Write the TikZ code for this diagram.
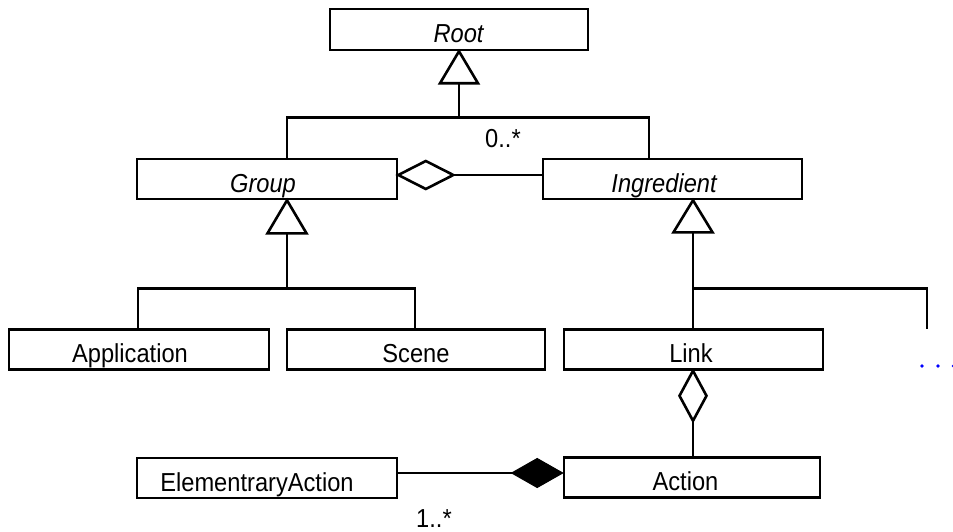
\documentclass[tikz,border=0pt]{standalone}
\usepackage{fontspec}
\setmainfont{Liberation Sans}[FakeStretch=0.91]
\usetikzlibrary{calc}
\begin{document}
\begin{tikzpicture}[x=1pt,y=-1pt,
  cls/.style={draw, line width=2.6pt, fill=white, inner sep=0pt,
    minimum height=40pt, text height=26pt, text depth=0pt,
    font=\fontsize{26}{30}\selectfont},
  conn/.style={line width=2.6pt},
  gen/.style={line width=2.6pt, fill=white, line join=miter},
  comp/.style={line width=1pt, fill=black, draw=black, line join=miter},
  lbl/.style={inner sep=0pt, font=\fontsize{26}{30}\selectfont}]
\useasboundingbox (0,0) rectangle (953,532);

% classes
\node[cls, minimum width=258pt, minimum height=41pt] (root) at (459,29.5) {\textit{Root}};
\node[cls, minimum width=260pt] (group) at (267,179) {\hspace*{-8pt}\textit{Group}};
\node[cls, minimum width=259pt] (ingredient) at (672.5,179) {\hspace*{-16pt}\textit{Ingredient}};
\node[cls, minimum width=260pt] (application) at (139,349.5) {\hspace*{-18pt}Application};
\node[cls, minimum width=258pt] (scene) at (416,349.5) {Scene};
\node[cls, minimum width=259pt] (link) at (693.5,349.5) {\hspace*{-5pt}Link};
\node[cls, minimum width=260pt] (elem) at (267,478) {\hspace*{-20pt}ElementraryAction};
\node[cls, minimum width=256pt] (action) at (692,477.5) {\hspace*{-13pt}Action};

% Root generalization
\draw[gen] (root.south) -- ++(-19,32) -- ++(38,0) -- cycle;
\coordinate (rbase) at ($(root.south)+(0,32)$);
\coordinate (rbar) at ($(root.south)+(0,66)$);
\draw[conn] (rbase) -- (rbar);
\draw[conn] ([xshift=20pt]group.north) |- (rbar) -| ([xshift=-23.5pt]ingredient.north);
\node[lbl, anchor=base] (many) at (503,148) {0..*};

% Group aggregates Ingredient
\draw[gen] ([yshift=4pt]group.east) -- ++(27.5,-14) -- ++(27.5,14) coordinate (gd)
  -- ++(-27.5,14) -- cycle;
\draw[conn] (gd) -- (gd -| ingredient.west);

% Group generalization
\draw[gen] ([xshift=20pt]group.south) -- ++(-19.5,33) -- ++(39,0) -- cycle;
\coordinate (gbase) at ($([xshift=20pt]group.south)+(0,33)$);
\coordinate (gbar) at ($([xshift=20pt]group.south)+(0,88)$);
\draw[conn] (gbase) -- (gbar);
\draw[conn] ([xshift=-1pt]application.north) |- (gbar) -| ([xshift=-1pt]scene.north);

% Ingredient generalization
\draw[gen] ([xshift=20.5pt]ingredient.south) -- ++(-19.5,32) -- ++(39,0) -- cycle;
\coordinate (ibase) at ($([xshift=20.5pt]ingredient.south)+(0,32)$);
\coordinate (ibar) at ($([xshift=20.5pt]ingredient.south)+(0,88)$);
\coordinate (more) at (927,329);
\draw[conn] (ibase) -- (ibase |- link.north);
\draw[conn] (ibar) -| (more);
\fill[blue] (922,366) circle (1.8) (938,366) circle (1.8) (953.5,366) circle (1.8);

% Link aggregates Action
\draw[gen] ([xshift=-0.5pt]link.south) -- ++(-13.5,25) -- ++(13.5,25) coordinate (ld)
  -- ++(13.5,-25) -- cycle;
\draw[conn] (ld) -- (ld |- action.north);

% Action composed of ElementraryAction
\draw[comp] ([yshift=4.5pt]action.west) -- ++(-25.5,-14.5) -- ++(-25.5,14.5) coordinate (ad)
  -- ++(25.5,14.5) -- cycle;
\draw[conn] ([yshift=5pt]elem.east) -- (ad);
\node[lbl, anchor=base] (some) at (434,527) {1..*};
\end{tikzpicture}
\end{document}
